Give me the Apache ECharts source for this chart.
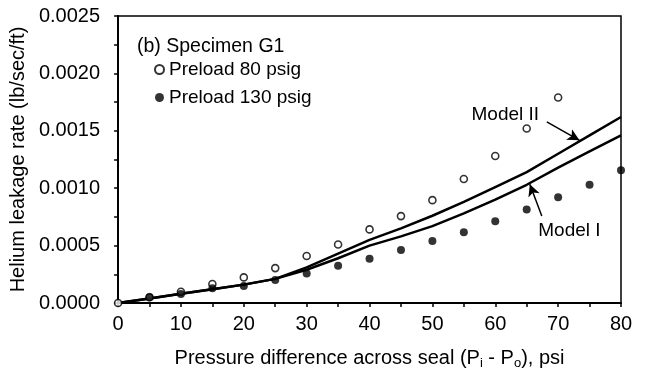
<!DOCTYPE html>
<html><head><meta charset="utf-8">
<script src="https://cdn.jsdelivr.net/npm/echarts@6/dist/echarts.min.js"></script>
<style>html,body{margin:0;padding:0;background:#fff}#c{width:648px;height:379px}</style>
</head><body><div id="c"></div>
<script>
// Measured data: preload 80 psig (open circles)
const pressure80 = [0, 5, 10, 15, 20, 25, 30, 35, 40, 45, 50, 55, 60, 65, 70];
const leak80 = [0, 0.00005, 0.000098, 0.000165, 0.000223, 0.000304, 0.000409, 0.000510, 0.000641, 0.000757, 0.000896, 0.00108, 0.00128, 0.00152, 0.00179];
// Measured data: preload 130 psig (filled circles)
const pressure130 = [5, 10, 15, 20, 25, 30, 35, 40, 45, 50, 55, 60, 65, 70, 75, 80];
const leak130 = [0.00005, 0.000078, 0.000128, 0.000148, 0.0002, 0.000258, 0.000324, 0.000385, 0.000461, 0.000539, 0.000617, 0.000713, 0.000815, 0.000922, 0.00103, 0.001157];
// Model curves
const modelX = [0, 5, 10, 15, 20, 25, 30, 35, 40, 45, 50, 55, 60, 65, 70, 75, 80];
const modelII = [0, 0.00004, 0.00008, 0.00012, 0.00016, 0.00021, 0.00031, 0.00043, 0.00055, 0.00065, 0.00076, 0.00088, 0.00101, 0.00114, 0.00130, 0.00146, 0.00162];
const modelI = [0, 0.00004, 0.00008, 0.00012, 0.00016, 0.00021, 0.00029, 0.00039, 0.00050, 0.00058, 0.00067, 0.00078, 0.00090, 0.00103, 0.00118, 0.00132, 0.00146];
// Annotation anchors (data coordinates)
const modelIILabel = [61.6, 0.00164];
const modelIIArrow = [[68.2, 0.001577], [73.4, 0.001417]];
const modelILabel = [71.8, 0.00063];
const modelIArrow = [[67.4, 0.000757], [65.5, 0.001035]];

const zip = (xs, ys) => xs.map((x, i) => [x, ys[i]]);
const FONT = 'Liberation Sans';
const chart = echarts.init(document.getElementById('c'), null, {renderer: 'canvas'});

function modelSeries(name, ys, labelPos, arrow) {
  return {
    name, type: 'line', data: zip(modelX, ys), symbol: 'none', smooth: false,
    lineStyle: {color: '#000', width: 2.5}, z: 3,
    markLine: {
      silent: true, symbol: ['none', 'arrow'], symbolSize: [9, 12],
      lineStyle: {color: '#000', width: 1.5, type: 'solid'},
      label: {show: false},
      data: [[{coord: arrow[0]}, {coord: arrow[1]}]]
    },
    markPoint: {
      symbol: 'circle', symbolSize: 0, silent: true,
      label: {show: true, position: 'inside', formatter: name, color: '#000', fontSize: 19, fontFamily: FONT},
      data: [{coord: labelPos}]
    }
  };
}

chart.setOption({
  animation: false,
  textStyle: {fontFamily: FONT, color: '#000'},
  title: {
    text: '(b) Specimen G1', left: 132, top: 32,
    textStyle: {fontSize: 19.5, fontWeight: 'normal', color: '#000', fontFamily: FONT}
  },
  legend: {
    data: ['Preload 80 psig', 'Preload 130 psig'],
    orient: 'vertical', left: 149, top: 55, itemWidth: 9, itemHeight: 9, itemGap: 9,
    textStyle: {fontSize: 19, color: '#000', fontFamily: FONT, lineHeight: 19}
  },
  grid: {left: 118, right: 27, top: 16, bottom: 76, show: true, borderColor: '#000', borderWidth: 1.5, backgroundColor: 'transparent'},
  xAxis: {
    type: 'value', min: 0, max: 80, interval: 10,
    axisLine: {show: true, lineStyle: {color: '#000', width: 2}},
    axisTick: {show: true, length: 4, lineStyle: {color: '#000', width: 1.5}},
    minorTick: {show: true, splitNumber: 2, length: 4, lineStyle: {color: '#000', width: 1.5}},
    splitLine: {show: false},
    axisLabel: {fontSize: 20, color: '#000', margin: 11, fontFamily: FONT},
    name: 'Pressure difference across seal (P{s|i} - P{s|o}), psi',
    nameLocation: 'middle', nameGap: 44,
    nameTextStyle: {fontSize: 20, color: '#000', fontFamily: FONT,
      rich: {s: {fontSize: 13, padding: [10, 0, 0, 0], color: '#000', fontFamily: FONT}}}
  },
  yAxis: {
    type: 'value', min: 0, max: 0.0025, interval: 0.0005,
    axisLine: {show: true, lineStyle: {color: '#000', width: 2}},
    axisTick: {show: true, length: 4, lineStyle: {color: '#000', width: 1.5}},
    minorTick: {show: true, splitNumber: 2, length: 4, lineStyle: {color: '#000', width: 1.5}},
    splitLine: {show: false},
    axisLabel: {fontSize: 20, color: '#000', margin: 18, fontFamily: FONT, formatter: v => v.toFixed(4)},
    name: 'Helium leakage rate (lb/sec/ft)',
    nameLocation: 'middle', nameGap: 78,
    nameTextStyle: {fontSize: 20, color: '#000', fontFamily: FONT}
  },
  series: [
    modelSeries('Model II', modelII, modelIILabel, modelIIArrow),
    modelSeries('Model I', modelI, modelILabel, modelIArrow),
    {
      name: 'Preload 80 psig', type: 'scatter', data: zip(pressure80, leak80),
      symbol: 'circle', symbolSize: 7, z: 4,
      itemStyle: {color: '#fff', borderColor: '#000', borderWidth: 1.6}
    },
    {
      name: 'Preload 130 psig', type: 'scatter', data: zip(pressure130, leak130),
      symbol: 'circle', symbolSize: 8, z: 5,
      itemStyle: {color: '#000', borderColor: '#000', borderWidth: 0}
    }
  ]
});
</script>
</body></html>
